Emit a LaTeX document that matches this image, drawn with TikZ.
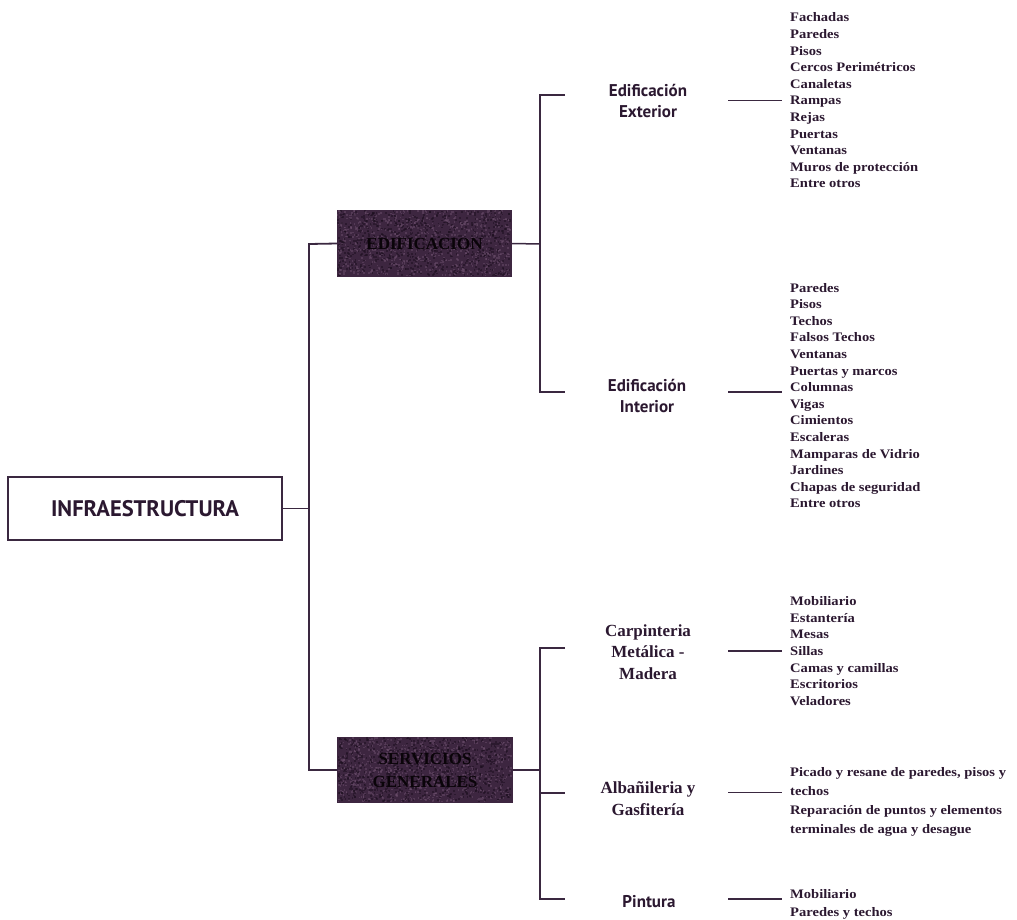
\documentclass[tikz,border=0pt]{standalone}
\usepackage{fontspec}
\usetikzlibrary{backgrounds}
\setmainfont{Liberation Serif}
\newfontfamily\listfont[FakeStretch=1.12]{Liberation Serif}
\newfontfamily\humfont{PT Sans}
\definecolor{ink}{HTML}{2B1830}
\definecolor{rule}{HTML}{3A2840}
\definecolor{plum}{HTML}{3D2640}
\definecolor{plumlight}{HTML}{6C4F6C}
\definecolor{plumdark}{HTML}{1E1020}
\definecolor{boxtext}{HTML}{0A0409}
\tikzset{
  rootbox/.style={draw=rule, line width=1.8pt, fill=white, minimum width=274pt,
    minimum height=63pt, text=ink, font=\humfont\bfseries\fontsize{22.5}{26}\selectfont},
  darkbox/.style={minimum width=175pt, minimum height=67pt, text=boxtext,
    align=center, font=\bfseries\fontsize{17}{23}\selectfont},
  grainlight/.style={fill=plumlight, opacity=0.5},
  graindark/.style={fill=plumdark, opacity=0.55},
  sanslabel/.style={align=center, text=ink, font=\humfont\bfseries\fontsize{17}{21}\selectfont},
  seriflabel/.style={align=center, text=ink, font=\bfseries\fontsize{17}{21.5}\selectfont},
  itemlist/.style={anchor=west, align=left, inner xsep=8pt, inner ysep=0pt, text=ink,
    font=\listfont\bfseries\fontsize{13}{16.6}\selectfont},
  trunk/.style={draw=rule, line width=1.8pt},
  stub/.style={draw=rule, line width=1.5pt},
}
% grainy plum fill behind a box node: #1 = node name, #2 = width, #3 = height
\newcommand\grainybox[3]{%
  \fill[plum] (#1.north west) rectangle (#1.south east);
  \begin{scope}[shift={(#1.north west)}]
    \foreach \i in {1,...,800}{
      \pgfmathsetmacro\ga{(#2-2)*rnd}\pgfmathsetmacro\gb{(#3-2)*rnd}
      \fill[grainlight] (\ga,\gb) rectangle ++(1.6,1.6);
      \pgfmathsetmacro\gc{(#2-2)*rnd}\pgfmathsetmacro\gd{(#3-2)*rnd}
      \fill[graindark] (\gc,\gd) rectangle ++(1.8,1.8);
    }
  \end{scope}%
}
\begin{document}
\begin{tikzpicture}[x=1pt, y=-1pt]
\pgfmathsetseed{11}
\useasboundingbox (0,0) rectangle (1017,919);

% root and the two main groups
\node[rootbox] (infra) at (145,508.5) {INFRAESTRUCTURA};
\node[darkbox] (edif) at (424.5,243.5) {EDIFICACION};
\node[darkbox, minimum height=66pt] (serv) at (425,770) {SERVICIOS\\GENERALES};
\begin{scope}[on background layer]
  \grainybox{edif}{175}{67}
  \grainybox{serv}{175}{66}
\end{scope}

% trunk joining the root to both groups
\coordinate (tTop) at (309,244);
\coordinate (tBot) at (309,770);
\draw[trunk] (edif.west) -- (tTop) -- (tBot) -- (serv.west);
\draw[trunk] (infra.east) -- (infra.east -| tTop);

% second level labels
\node[sanslabel] (ext) at (648,101) {Edificación\\Exterior};
\node[sanslabel] (int) at (647,396) {Edificación\\Interior};
\node[seriflabel] (carp) at (648,652) {Carpinteria\\Metálica -\\Madera};
\node[seriflabel] (alb) at (648,798.5) {Albañileria y\\Gasfitería};
\node[sanslabel] (pint) at (649,902) {Pintura};

% bracket under EDIFICACION
\coordinate (eJ) at (540,244);
\coordinate (eA) at (540,95);  \coordinate (eAt) at (565,95);
\coordinate (eB) at (540,392); \coordinate (eBt) at (565,392);
\draw[stub] (edif.east) -- (eJ);
\draw[trunk] (eAt) -- (eA) -- (eB) -- (eBt);

% bracket under SERVICIOS GENERALES
\coordinate (sJ) at (540,770);
\coordinate (sA) at (540,648); \coordinate (sAt) at (565,648);
\coordinate (sB) at (540,793); \coordinate (sBt) at (565,793);
\coordinate (sC) at (540,899); \coordinate (sCt) at (565,899);
\draw[stub] (serv.east) -- (sJ);
\draw[trunk] (sAt) -- (sA) -- (sC) -- (sCt);
\draw[stub] (sB) -- (sBt);

% item lists
\node[itemlist] (lext) at (782,100.5) {Fachadas\\Paredes\\Pisos\\Cercos Perimétricos\\Canaletas\\Rampas\\Rejas\\Puertas\\Ventanas\\Muros de protección\\Entre otros};
\node[itemlist] (lint) at (782,395.5) {Paredes\\Pisos\\Techos\\Falsos Techos\\Ventanas\\Puertas y marcos\\Columnas\\Vigas\\Cimientos\\Escaleras\\Mamparas de Vidrio\\Jardines\\Chapas de seguridad\\Entre otros};
\node[itemlist] (lcarp) at (782,651) {Mobiliario\\Estantería\\Mesas\\Sillas\\Camas y camillas\\Escritorios\\Veladores};
\node[itemlist, font=\listfont\bfseries\fontsize{13}{19}\selectfont] (lalb) at (782,801.5) {Picado y resane de paredes, pisos y\\techos\\Reparación de puntos y elementos\\terminales de agua y desague};
\node[itemlist, font=\listfont\bfseries\fontsize{13}{18}\selectfont] (lpint) at (782,904) {Mobiliario\\Paredes y techos};

% stubs from the labels to their lists
\draw[stub] ([xshift=-54pt]lext.west) -- (lext.west);
\draw[stub] ([shift={(-54,-3.5)}]lint.west) -- ([shift={(0,-3.5)}]lint.west);
\draw[stub] ([xshift=-54pt]lcarp.west) -- (lcarp.west);
\draw[stub] ([shift={(-54,-9)}]lalb.west) -- ([shift={(0,-9)}]lalb.west);
\draw[stub] ([shift={(-54,-5)}]lpint.west) -- ([shift={(0,-5)}]lpint.west);
\end{tikzpicture}
\end{document}
